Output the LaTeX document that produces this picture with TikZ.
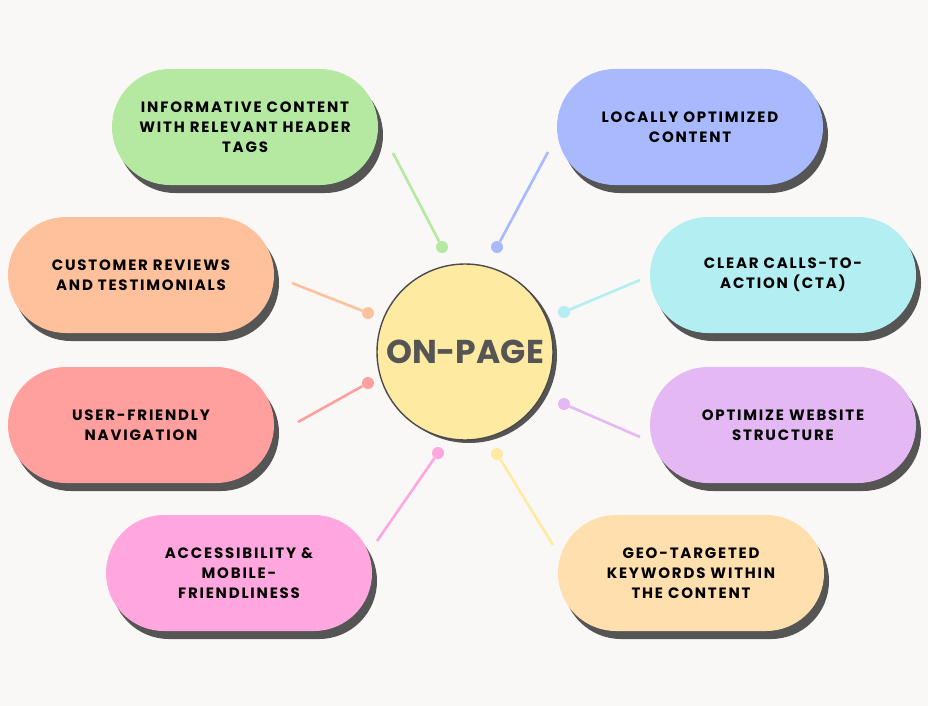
\documentclass[tikz,border=0pt]{standalone}
\usepackage{fontspec}
\setmainfont{Poppins}[LetterSpace=12]
\newfontfamily\titlefont{Poppins}
\usepackage{tikz}
\usetikzlibrary{shadows}
\definecolor{pagebg}{HTML}{FAF8F6}
\definecolor{shadowgrey}{HTML}{555555}
\definecolor{rimgrey}{HTML}{4A4A4A}
\definecolor{pillgreen}{HTML}{B5E8A0}
\definecolor{pillblue}{HTML}{A9B9FE}
\definecolor{pillorange}{HTML}{FFC19B}
\definecolor{pillcyan}{HTML}{B3EEF2}
\definecolor{pillred}{HTML}{FF9F9E}
\definecolor{pillpurple}{HTML}{E3B8F3}
\definecolor{pillpink}{HTML}{FFA7DE}
\definecolor{pillpeach}{HTML}{FFDFAE}
\definecolor{hubyellow}{HTML}{FFEAA1}

\tikzset{
  pill/.style={rectangle, fill=#1, minimum width=266pt, minimum height=116pt,
    rounded corners=58pt, align=center, text=black,
    font=\fontsize{15}{20}\selectfont\bfseries,
    drop shadow={shadow xshift=5pt, shadow yshift=-8pt, opacity=1, fill=shadowgrey}},
  dot/.style={circle, fill=#1, inner sep=0pt, minimum size=12pt},
  link/.style={draw=#1, line width=2.6pt}
}

\begin{document}
\begin{tikzpicture}[x=1pt, y=-1pt]
  \fill[pagebg] (0,0) rectangle (928,706);
  \useasboundingbox (0,0) rectangle (928,706);
  % hub
  \node[circle, fill=hubyellow, draw=rimgrey, line width=1.4pt, minimum size=176pt,
    font=\titlefont\fontsize{33}{33}\selectfont\bfseries, text=shadowgrey,
    drop shadow={shadow xshift=4pt, shadow yshift=-3pt, opacity=1, fill=shadowgrey}]
    (onpage) at (465,352) {ON-PAGE};
  % pills
  \node[pill=pillgreen] (infocontent) at (245,127) {INFORMATIVE CONTENT\\WITH RELEVANT HEADER\\TAGS};
  \node[pill=pillblue] (localcontent) at (690,127) {LOCALLY OPTIMIZED\\CONTENT};
  \node[pill=pillorange] (reviews) at (141,275) {CUSTOMER REVIEWS\\AND TESTIMONIALS};
  \node[pill=pillcyan] (calls) at (783,275) {CLEAR CALLS-TO-\\ACTION (CTA)};
  \node[pill=pillred] (navigation) at (141,425) {USER-FRIENDLY\\NAVIGATION};
  \node[pill=pillpurple] (structure) at (783,425) {OPTIMIZE WEBSITE\\STRUCTURE};
  \node[pill=pillpink] (access) at (239,573) {ACCESSIBILITY \&\\MOBILE-\\FRIENDLINESS};
  \node[pill=pillpeach] (geo) at (691,573) {GEO-TARGETED\\KEYWORDS WITHIN\\THE CONTENT};
  % connector ends
  \coordinate (infoend) at (393,153);
  \coordinate (localend) at (548,152);
  \coordinate (reviewend) at (292,283);
  \coordinate (callend) at (640,280);
  \coordinate (navend) at (298,422);
  \coordinate (structend) at (640,437);
  \coordinate (accessend) at (377,541);
  \coordinate (geoend) at (553,545);
  % dots
  \node[dot=pillgreen] (infodot) at (442,247) {};
  \node[dot=pillblue] (localdot) at (497,247) {};
  \node[dot=pillorange] (reviewdot) at (368,313) {};
  \node[dot=pillcyan] (calldot) at (564,312) {};
  \node[dot=pillred] (navdot) at (368,383) {};
  \node[dot=pillpurple] (structdot) at (564,404) {};
  \node[dot=pillpink] (accessdot) at (438,453) {};
  \node[dot=hubyellow] (geodot) at (497,454) {};
  % connectors
  \draw[link=pillgreen] (infoend) -- (infodot);
  \draw[link=pillblue] (localend) -- (localdot);
  \draw[link=pillorange] (reviewend) -- (reviewdot);
  \draw[link=pillcyan] (callend) -- (calldot);
  \draw[link=pillred] (navend) -- (navdot);
  \draw[link=pillpurple] (structend) -- (structdot);
  \draw[link=pillpink] (accessend) -- (accessdot);
  \draw[link=hubyellow] (geoend) -- (geodot);
\end{tikzpicture}
\end{document}
